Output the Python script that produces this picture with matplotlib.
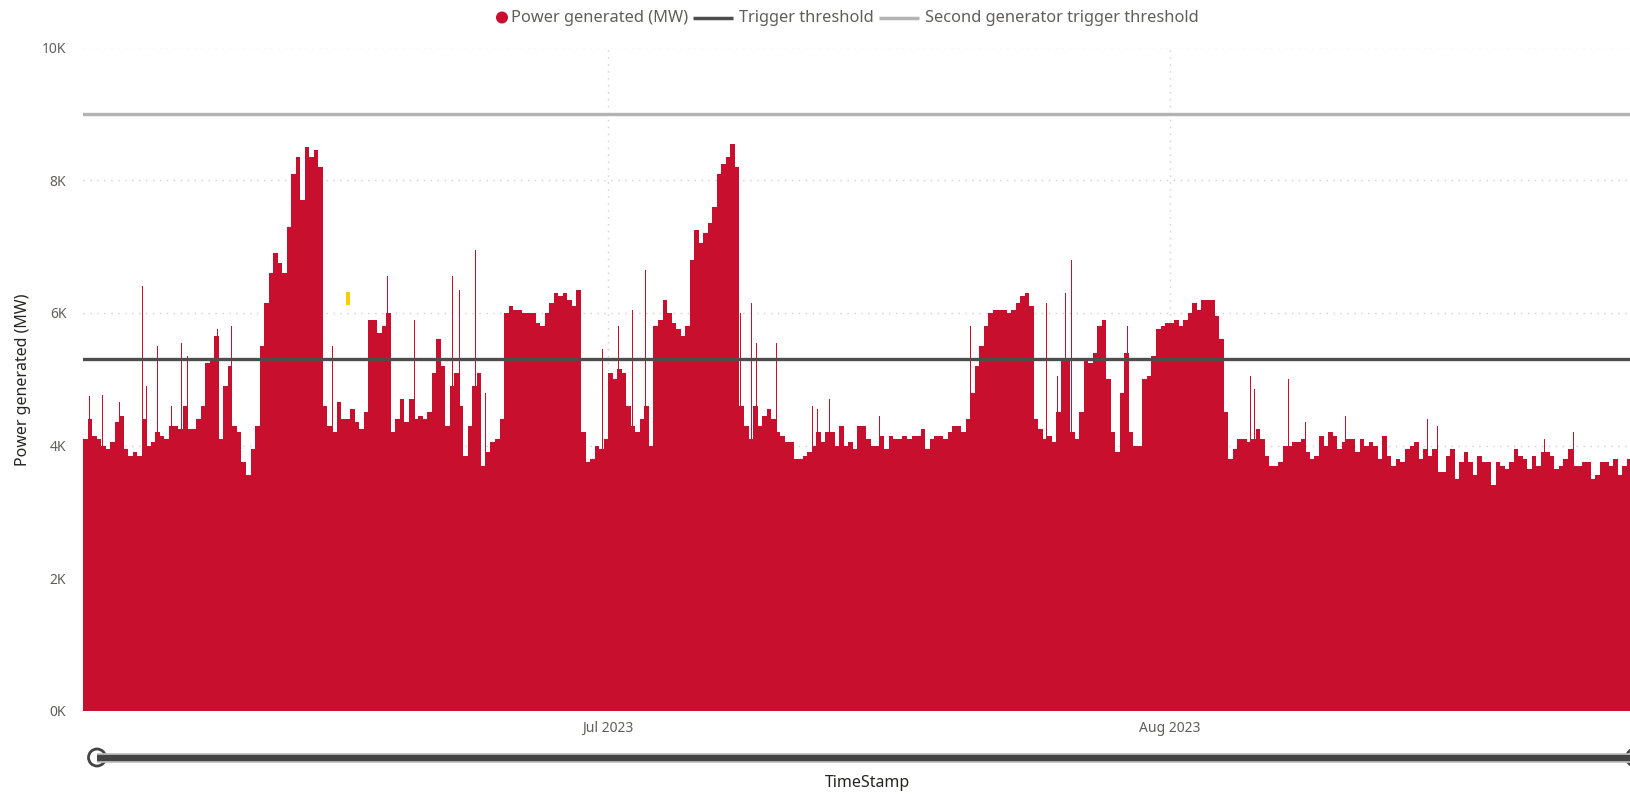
import numpy as np
import pandas as pd
import matplotlib
matplotlib.use("Agg")
from matplotlib import pyplot as plt
from matplotlib.patches import Circle

plt.rcParams['font.family'] = ['Noto Sans', 'DejaVu Sans']

# Power generated, thousands of MW, one value per 6 hours starting 2023-06-02 00:00
power_6h_k = [
    4.1, 4.4, 4.15, 4.1,     # Jun 2
    4.0, 3.95, 4.05, 4.35,   # Jun 3
    4.45, 3.95, 3.85, 3.9,   # Jun 4
    3.85, 4.4, 4.0, 4.05,    # Jun 5
    4.2, 4.15, 4.1, 4.3,     # Jun 6
    4.3, 4.25, 4.6, 4.25,    # Jun 7
    4.25, 4.4, 4.6, 5.25,    # Jun 8
    5.3, 5.65, 4.1, 4.9,     # Jun 9
    5.2, 4.3, 4.2, 3.75,     # Jun 10
    3.55, 3.95, 4.3, 5.5,    # Jun 11
    6.15, 6.6, 6.9, 6.75,    # Jun 12
    6.6, 7.3, 8.1, 8.35,     # Jun 13
    7.7, 8.5, 8.35, 8.45,    # Jun 14
    8.2, 4.6, 4.3, 4.2,      # Jun 15
    4.65, 4.4, 4.4, 4.55,    # Jun 16
    4.35, 4.25, 4.5, 5.9,    # Jun 17
    5.9, 5.7, 5.8, 6.0,      # Jun 18
    4.2, 4.4, 4.7, 4.35,     # Jun 19
    4.7, 4.4, 4.45, 4.4,     # Jun 20
    4.5, 5.1, 5.6, 5.2,      # Jun 21
    4.3, 4.9, 5.1, 4.6,      # Jun 22
    3.85, 4.3, 4.9, 5.1,     # Jun 23
    3.7, 3.9, 4.05, 4.1,     # Jun 24
    4.4, 6.0, 6.1, 6.05,     # Jun 25
    6.05, 6.0, 6.0, 6.0,     # Jun 26
    5.85, 5.8, 6.0, 6.15,    # Jun 27
    6.3, 6.25, 6.3, 6.2,     # Jun 28
    6.1, 6.35, 4.2, 3.75,    # Jun 29
    3.8, 4.0, 3.95, 4.1,     # Jun 30
    5.1, 5.0, 5.15, 5.1,     # Jul 1
    4.6, 4.3, 4.2, 4.4,      # Jul 2
    4.6, 4.0, 5.8, 5.9,      # Jul 3
    6.2, 6.0, 5.85, 5.75,    # Jul 4
    5.65, 5.8, 6.8, 7.25,    # Jul 5
    7.05, 7.2, 7.35, 7.6,    # Jul 6
    8.1, 8.25, 8.35, 8.55,   # Jul 7
    8.2, 4.6, 4.3, 4.1,      # Jul 8
    4.6, 4.3, 4.45, 4.55,    # Jul 9
    4.4, 4.2, 4.15, 4.05,    # Jul 10
    4.05, 3.8, 3.8, 3.85,    # Jul 11
    3.9, 4.0, 4.2, 4.05,     # Jul 12
    4.2, 4.2, 4.0, 4.3,      # Jul 13
    4.0, 4.05, 3.95, 4.3,    # Jul 14
    4.3, 4.1, 4.0, 4.0,      # Jul 15
    4.15, 3.95, 4.15, 4.1,   # Jul 16
    4.1, 4.15, 4.1, 4.15,    # Jul 17
    4.15, 4.25, 3.95, 4.1,   # Jul 18
    4.15, 4.15, 4.1, 4.2,    # Jul 19
    4.3, 4.3, 4.2, 4.4,      # Jul 20
    4.8, 5.2, 5.5, 5.8,      # Jul 21
    6.0, 6.05, 6.05, 6.05,   # Jul 22
    6.0, 6.05, 6.15, 6.25,   # Jul 23
    6.3, 6.1, 4.4, 4.25,     # Jul 24
    4.1, 4.15, 4.05, 4.5,    # Jul 25
    5.3, 5.3, 4.2, 4.1,      # Jul 26
    4.5, 5.3, 5.25, 5.4,     # Jul 27
    5.8, 5.9, 5.0, 4.2,      # Jul 28
    3.9, 4.8, 5.4, 4.2,      # Jul 29
    4.0, 4.0, 5.0, 5.05,     # Jul 30
    5.35, 5.75, 5.8, 5.85,   # Jul 31
    5.85, 5.9, 5.8, 5.9,     # Aug 1
    6.0, 6.15, 6.05, 6.2,    # Aug 2
    6.2, 6.2, 5.95, 5.6,     # Aug 3
    4.5, 3.8, 3.95, 4.1,     # Aug 4
    4.1, 4.05, 4.1, 4.25,    # Aug 5
    4.1, 3.85, 3.7, 3.7,     # Aug 6
    3.75, 4.0, 4.0, 4.05,    # Aug 7
    4.05, 4.1, 3.9, 3.8,     # Aug 8
    3.85, 4.15, 4.0, 4.2,    # Aug 9
    4.15, 3.95, 4.05, 4.1,   # Aug 10
    4.1, 3.9, 4.1, 4.0,      # Aug 11
    4.05, 4.0, 3.8, 4.15,    # Aug 12
    3.85, 3.7, 3.8, 3.75,    # Aug 13
    3.95, 4.0, 4.05, 3.8,    # Aug 14
    3.95, 3.85, 3.95, 3.6,   # Aug 15
    3.6, 3.85, 3.95, 3.5,    # Aug 16
    3.75, 3.9, 3.75, 3.55,   # Aug 17
    3.85, 3.75, 3.75, 3.4,   # Aug 18
    3.75, 3.7, 3.65, 3.75,   # Aug 19
    3.95, 3.85, 3.8, 3.65,   # Aug 20
    3.85, 3.7, 3.9, 3.9,     # Aug 21
    3.85, 3.65, 3.7, 3.8,    # Aug 22
    3.95, 3.7, 3.7, 3.75,    # Aug 23
    3.75, 3.5, 3.55, 3.75,   # Aug 24
    3.75, 3.7, 3.8, 3.55,    # Aug 25
    3.7, 3.8,                # Aug 26
]

# single hourly peaks that stick out above the 6-hour level
spike_times = [
    "2023-06-02 09:00", "2023-06-03 02:00", "2023-06-04 00:00", "2023-06-05 07:00",
    "2023-06-05 12:00", "2023-06-06 03:00", "2023-06-06 21:00", "2023-06-07 11:00",
    "2023-06-07 18:00", "2023-06-09 10:00", "2023-06-10 05:00", "2023-06-15 14:00",
    "2023-06-15 19:00", "2023-06-16 10:00", "2023-06-17 11:00", "2023-06-18 20:00",
    "2023-06-20 07:00", "2023-06-22 10:00", "2023-06-22 19:00", "2023-06-23 16:00",
    "2023-06-23 22:00", "2023-06-24 05:00", "2023-06-29 12:00", "2023-06-30 08:00",
    "2023-06-30 16:00", "2023-07-01 14:00", "2023-07-02 08:00", "2023-07-03 01:00",
    "2023-07-07 20:00", "2023-07-08 07:00", "2023-07-08 22:00", "2023-07-09 05:00",
    "2023-07-10 07:00", "2023-07-12 07:00", "2023-07-12 13:00", "2023-07-13 05:00",
    "2023-07-13 10:00", "2023-07-16 00:00", "2023-07-19 05:00", "2023-07-20 17:00",
    "2023-07-21 00:00", "2023-07-25 05:00", "2023-07-25 19:00", "2023-07-26 06:00",
    "2023-07-26 14:00", "2023-07-28 17:00", "2023-07-29 16:00", "2023-08-04 00:00",
    "2023-08-05 11:00", "2023-08-05 17:00", "2023-08-07 14:00", "2023-08-08 12:00",
    "2023-08-10 17:00", "2023-08-15 06:00", "2023-08-15 19:00", "2023-08-21 17:00",
    "2023-08-23 07:00",
]
spike_values_k = [
    4.75, 4.76, 4.66, 6.4,
    4.9, 5.5, 4.6, 5.55,
    5.35, 5.75, 5.8, 5.6,
    5.5, 5.3, 5.3, 6.55,
    5.9, 6.55, 6.35, 6.95,
    5.95, 4.8, 6.6, 5.5,
    5.45, 5.8, 6.05, 6.65,
    9.1, 6.0, 6.15, 5.55,
    5.55, 4.6, 4.55, 4.7,
    4.75, 4.45, 4.4, 5.4,
    5.8, 6.15, 5.05, 6.3,
    6.8, 5.9, 5.8, 5.3,
    5.05, 4.85, 5.0, 4.35,
    4.45, 4.4, 4.3, 4.1,
    4.2,
]

trigger_threshold = 5300
second_threshold = 9000
series_start = "2023-06-02 00:00"
view_end = "2023-08-26 11:30"
month_ticks = ["2023-07-01", "2023-08-01"]
month_labels = ["Jul 2023", "Aug 2023"]
y_ticks = [0, 2000, 4000, 6000, 8000, 10000]
legend_labels = ["Power generated (MW)", "Trigger threshold",
                 "Second generator trigger threshold"]
# small yellow selection mark seen in the visual
highlight_time = ("2023-06-16 12:30", "2023-06-16 17:30")
highlight_range = (6120, 6310)

RED = "#C8102E"
DARK = "#4D4D4D"
LIGHT = "#B3B3B3"
TXT = "#605E5C"

W, H = 1631, 795
fig = plt.figure(figsize=(W / 100, H / 100), dpi=100)
ax = fig.add_axes([83 / W, 84 / H, 1 - 83 / W, 663.5 / H])

t0 = pd.Timestamp(series_start)
level_times = pd.date_range(t0, periods=len(power_6h_k), freq="6h")
ax.bar(level_times, np.array(power_6h_k) * 1000, width=0.25, align="edge",
       color=RED, linewidth=0, zorder=2)
ax.bar(pd.to_datetime(spike_times), np.array(spike_values_k) * 1000, width=1 / 24,
       align="center", color=RED, linewidth=0, zorder=2)

ax.axhline(trigger_threshold, color=DARK, lw=2.4, zorder=3)
ax.axhline(second_threshold, color=LIGHT, lw=2.4, zorder=3)

ax.fill_between(pd.to_datetime(list(highlight_time)), *highlight_range,
                color="#F5D000", linewidth=0, zorder=4)

ax.set_xlim(t0, pd.Timestamp(view_end))
ax.set_ylim(0, 10000)
ax.set_yticks(y_ticks)
ax.set_yticklabels([f"{v // 1000}K" for v in y_ticks])
ax.set_xticks(pd.to_datetime(month_ticks))
ax.set_xticklabels(month_labels)
ax.tick_params(length=0, colors=TXT, labelsize=10)
ax.tick_params(axis="y", pad=12)
ax.tick_params(axis="x", pad=7)
ax.grid(True, color="#CFCFCF", linestyle=(0, (1, 4)), lw=1, zorder=0)
ax.set_axisbelow(True)
for s in ax.spines.values():
    s.set_visible(False)
ax.set_ylabel("Power generated (MW)", fontsize=11.5, color="#252423", labelpad=8)

# overlay in pixel coordinates for legend and range slider
ov = fig.add_axes([0, 0, 1, 1], zorder=5)
ov.set_xlim(0, W)
ov.set_ylim(H, 0)
ov.axis("off")

# legend built item by item so the dot sits right next to its text
renderer = fig.canvas.get_renderer()
ly = 17.5
x = 502
ov.add_patch(Circle((x, ly), 6, facecolor=RED, edgecolor="none"))
x += 9
for i, lab in enumerate(legend_labels):
    t = ov.text(x, ly, lab, ha="left", va="center", fontsize=11.8, color=TXT)
    x += t.get_window_extent(renderer).width + 5
    if i < 2:
        ov.plot([x, x + 40], [ly, ly], color=[DARK, LIGHT][i], lw=2.5,
                solid_capstyle="butt")
        x += 46

# range slider
ov.plot([97, W + 20], [757.5, 757.5], color="#BDBDBD", lw=7, solid_capstyle="butt")
ov.plot([97, W + 20], [757.5, 757.5], color="#444444", lw=4.5, solid_capstyle="butt")
ov.add_patch(Circle((97, 757.5), 8.5, facecolor="white", edgecolor="#444444", lw=2))
ov.add_patch(Circle((W + 4, 757.5), 8.5, facecolor="white", edgecolor="#444444", lw=2))
ov.text(868, 783, "TimeStamp", ha="center", va="center", fontsize=11.5, color="#252423")

fig.savefig("out.png", dpi=100)
